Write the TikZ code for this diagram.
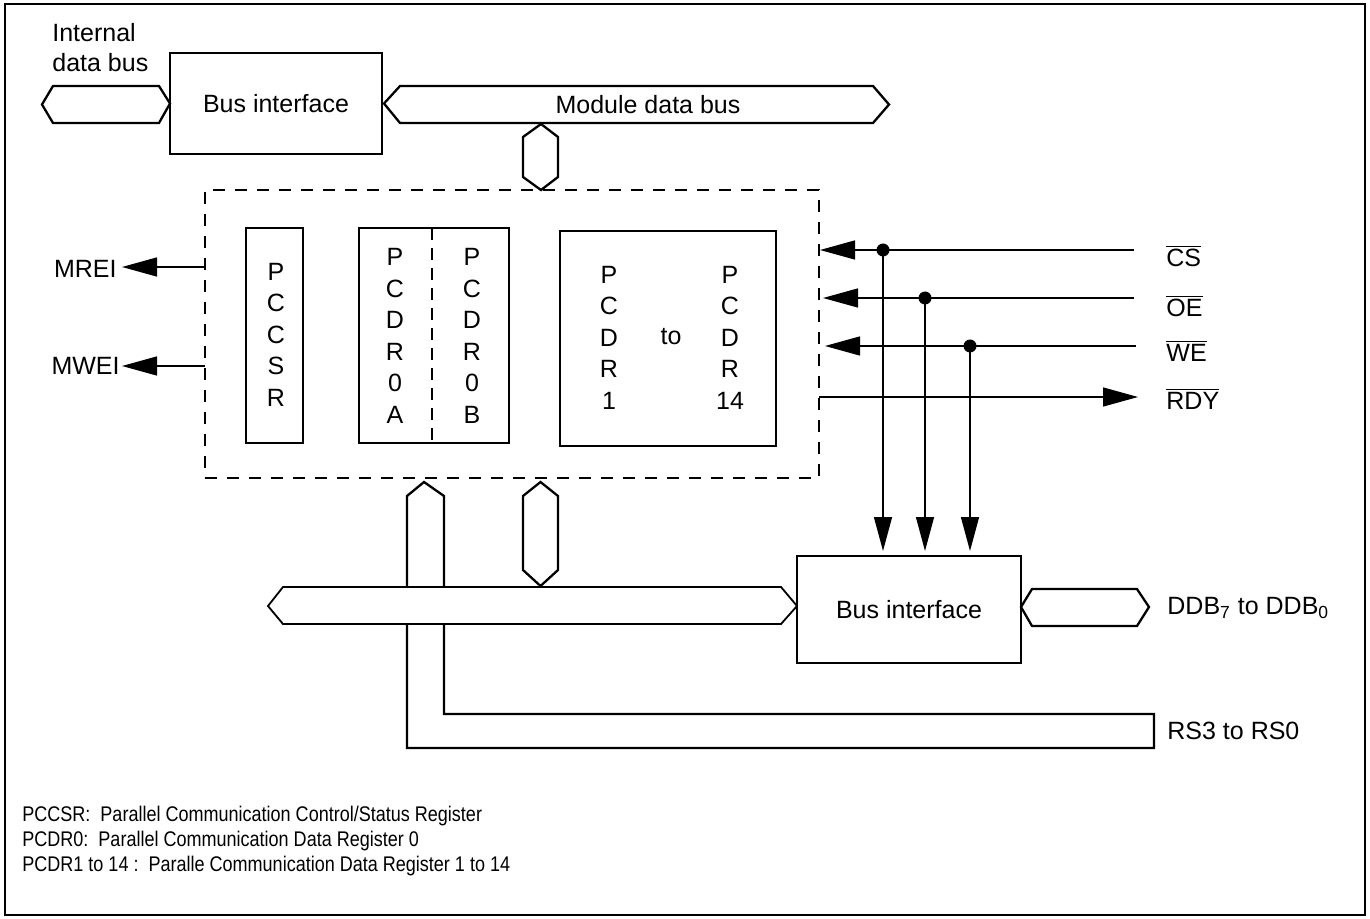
\documentclass[tikz,border=0pt]{standalone}
\usepackage{fontspec}
\setmainfont{Liberation Sans}
\usetikzlibrary{arrows.meta}
\begin{document}
\begin{tikzpicture}[x=0.5pt,y=-0.5pt,
 box/.style={draw,line width=0.8pt,inner sep=0pt,outer sep=0pt},
 busline/.style={draw,line width=1.15pt,fill=white,line join=miter},
 sig/.style={line width=0.7pt},
 harr/.style={-{Triangle[length=17.5pt,width=9.5pt]}},
 varr/.style={-{Triangle[length=17pt,width=9pt]}},
 lbl/.style={font=\fontsize{12.5}{15}\selectfont,inner sep=0pt},
 col/.style={font=\fontsize{12.5}{15.75}\selectfont,align=center,inner sep=0pt},
 leg/.style={font=\fontsize{10.6}{12.5}\selectfont,anchor=west,inner sep=0pt},
 dashbox/.style={draw,line width=0.75pt,dash pattern=on 6pt off 5pt,inner sep=0pt,outer sep=0pt},
 dot/.style={circle,fill,inner sep=0pt,minimum size=6.5pt}
]
\useasboundingbox (0,0) rectangle (1370,919);
\draw[line width=1.2pt] (5,4) rectangle (1365,915);

% top part
\node[lbl,align=left,anchor=north west] (idb) at (52,23) {Internal\\data bus};
\node[box,minimum width=106pt,minimum height=50.5pt,lbl] (bi1) at (276,103.5) {Bus interface};
\draw[busline] (42,104.5) -- (53,86) -- (159,86) -- (bi1.west) -- (159,123) -- (53,123) -- cycle;
\draw[busline] (bi1.east) ++(2,0) coordinate (mbL) -- (400,86) -- (873,86) -- (889,104.5) -- (873,123) -- (400,123) -- cycle;
\node[lbl] (mdb) at (648,105) {Module data bus};

% dashed module box
\node[dashbox,minimum width=307pt,minimum height=144pt] (dbox) at (512,334) {};
\draw[busline] (541,124) -- (558,137) -- (558,177) -- (541,190) -- (523,177) -- (523,137) -- cycle;

% registers
\node[box,minimum width=28.5pt,minimum height=107.5pt] (pccsr) at (274.5,335.5) {};
\node[col] (pccsrt) at (276,334.5) {P\\C\\C\\S\\R};
\node[box,minimum width=75pt,minimum height=107.5pt] (pcdr0) at (434,335.5) {};
\draw[line width=0.7pt,dash pattern=on 6pt off 4pt] (432,228) -- (432,440);
\node[col] (p0a) at (395,336) {P\\C\\D\\R\\0\\A};
\node[col] (p0b) at (472,336) {P\\C\\D\\R\\0\\B};
\node[box,minimum width=108pt,minimum height=107.5pt] (pcdr1) at (668,338.5) {};
\node[col] (p1) at (609,337.5) {P\\C\\D\\R\\1};
\node[col] (p14) at (730,337.5) {P\\C\\D\\R\\14};
\node[lbl] (to) at (671,337) {to};

% left interrupts
\node[lbl,anchor=east] (mrei) at (117,269) {MREI};
\node[lbl,anchor=east] (mwei) at (120,366) {MWEI};
\draw[sig,harr] (dbox.west |- mrei.east) ++(0,-2) -- (122,267);
\draw[sig,harr] (dbox.west |- mwei.east) -- (122,366);

% control signals
\coordinate (csE) at (1134,250);
\coordinate (oeE) at (1134,298);
\coordinate (weE) at (1136,346);
\node[lbl,anchor=west] (cs) at (1166,256) {$\overline{\mbox{CS}}$};
\node[lbl,anchor=west] (oe) at (1166,306) {$\overline{\mbox{OE}}$};
\node[lbl,anchor=west] (we) at (1166,351) {$\overline{\mbox{WE}}$};
\node[lbl,anchor=west] (rdy) at (1166,399) {$\overline{\mbox{RDY}}$};
\draw[sig,harr] (csE) -- (820,250);
\draw[sig,harr] (oeE) -- (823,298);
\draw[sig,harr] (weE) -- (825,346);
\draw[sig,harr] (dbox.east |- 0,397) -- (1138,397);

\node[box,minimum width=112pt,minimum height=53.5pt,lbl] (bi2) at (909,609.5) {Bus interface};
\node[dot] (d1) at (883,250) {};
\node[dot] (d2) at (925,298) {};
\node[dot] (d3) at (970,346) {};
\draw[sig,varr,shorten >=2.5pt] (d1.center) -- (d1.center |- bi2.north);
\draw[sig,varr,shorten >=2.5pt] (d2.center) -- (d2.center |- bi2.north);
\draw[sig,varr,shorten >=2.5pt] (d3.center) -- (d3.center |- bi2.north);

% lower buses
\draw[busline,fill=none] (424,482) -- (444,496) -- (444,714) -- (1154,714) -- (1154,748) -- (407,748) -- (407,496) -- cycle;
\draw[busline] (540.5,482) -- (558,496) -- (558,570) -- (540.5,586) -- (523,570) -- (523,496) -- cycle;
\draw[busline,line width=0.9pt] (268,606) -- (283,587) -- (781,587) -- (bi2.west |- 0,606) -- (781,624) -- (283,624) -- cycle;
\draw[busline] (bi2.east |- 0,607) -- (1032,589) -- (1137,589) -- (1149,607) -- (1137,626) -- (1032,626) -- cycle;
\node[lbl,anchor=west] (ddb) at (1167,608) {DDB\textsubscript{7} to DDB\textsubscript{0}};
\node[lbl,anchor=west] (rs) at (1167,731) {RS3 to RS0};

% legend
\node[leg] (l1) at (22,816) {\scalebox{0.85}[1]{PCCSR:\ \ Parallel Communication Control/Status Register}};
\node[leg] (l2) at (22,841) {\scalebox{0.85}[1]{PCDR0:\ \ Parallel Communication Data Register 0}};
\node[leg] (l3) at (22,866) {\scalebox{0.85}[1]{PCDR1 to 14 :\ \ Paralle Communication Data Register 1 to 14}};
\end{tikzpicture}
\end{document}
